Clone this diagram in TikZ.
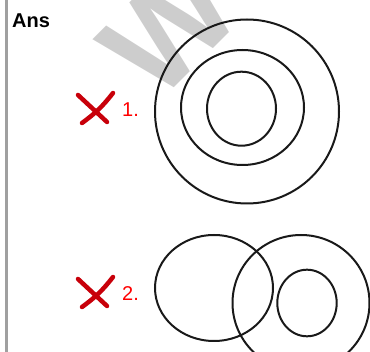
\documentclass[tikz,border=0pt]{standalone}
\usepackage{fontspec}
\setmainfont{Liberation Sans}
\usetikzlibrary{positioning}
\definecolor{markred}{RGB}{200,0,10}
\definecolor{labred}{RGB}{255,0,0}
\definecolor{wmgray}{RGB}{205,205,205}
\definecolor{rulegray}{RGB}{160,160,160}

\begin{document}
\begin{tikzpicture}[x=1pt, y=-1pt,
  ring/.style={draw=black!90, line width=2pt},
  cross/.style={draw=markred, line width=4.5pt, line cap=round},
  num/.style={text=labred, font=\fontsize{20}{20}\selectfont, anchor=base west, inner sep=0pt}
]
  \useasboundingbox (0,0) rectangle (370,352);
  % watermark
  \begin{scope}
    \clip (0,0) rectangle (370,352);
    \node[rotate=45, anchor=base west, inner sep=0pt, text=wmgray,
          font=\fontsize{133}{133}\selectfont\bfseries] (wm) at (157,105) {W};
  \end{scope}
  % left rule
  \draw[rulegray, line width=3pt] (6,0) -- (6,352);
  \node[anchor=base west, inner sep=0pt, font=\fontsize{20}{20}\selectfont\bfseries] (ans) at (12,28) {Ans};
  % crosses and numbers
  \foreach \y/\lab/\nm in {108/1./one, 292/2./two} {
    \coordinate (x\nm) at (95,\y);
    \draw[cross] ([shift={(-17,-13)}]x\nm) -- ([shift={(12,14)}]x\nm);
    \draw[cross] ([shift={(18,-15)}]x\nm) to[bend left=8] ([shift={(-13,15)}]x\nm);
    \node[num] (lab\nm) at (122,{\y+9}) {\lab};
  }
  % first set
  \draw[ring] (247,111.5) circle [radius=92];
  \draw[ring] (242.5,107.5) ellipse [x radius=61.5, y radius=57.5];
  \draw[ring] (241.5,108.7) ellipse [x radius=34.5, y radius=37];
  % second set
  \draw[ring] (214,288) ellipse [x radius=59, y radius=53];
  \draw[ring] (301,303) ellipse [x radius=68.5, y radius=68];
  \draw[ring] (307,303) ellipse [x radius=29.7, y radius=33.3];
\end{tikzpicture}
\end{document}
